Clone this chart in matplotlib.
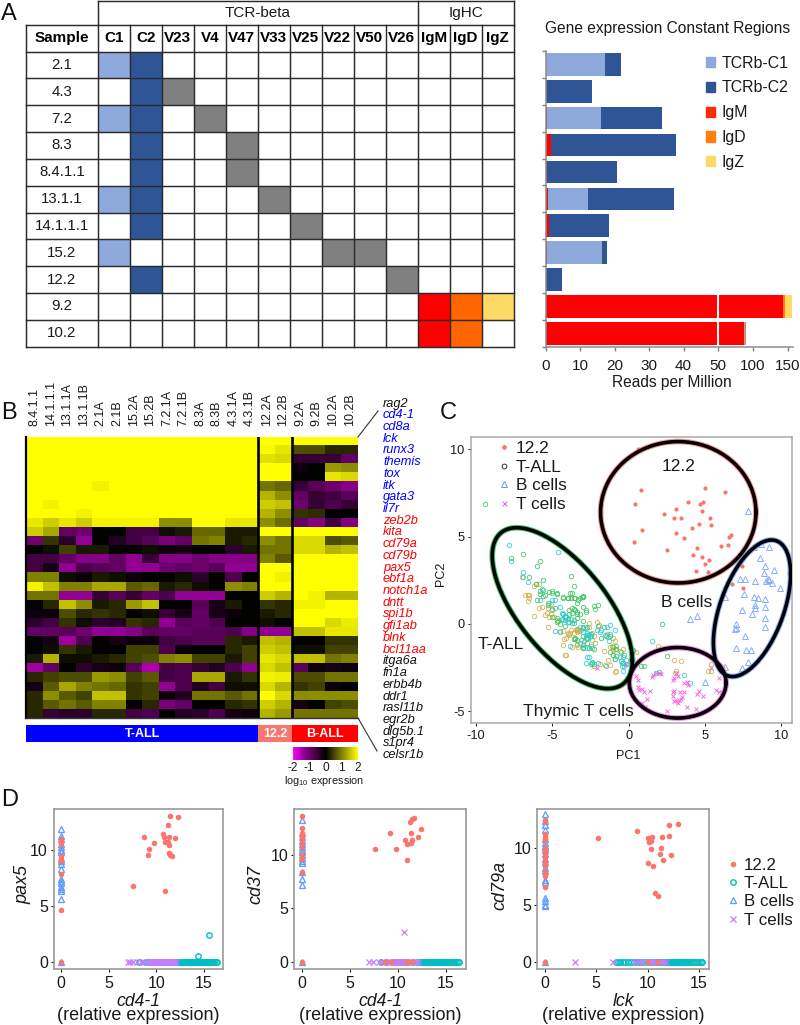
import numpy as np
import matplotlib
matplotlib.use("Agg")
import matplotlib.pyplot as plt
from matplotlib.colors import ListedColormap, LinearSegmentedColormap
from matplotlib.lines import Line2D
from matplotlib.patches import Patch

plt.rcParams['font.family'] = ['Liberation Sans', 'DejaVu Sans']
plt.rcParams['mathtext.default'] = 'regular'
plt.rcParams['axes.unicode_minus'] = False

# ---------------- data: panel A ----------------
samples = ['2.1', '4.3', '7.2', '8.3', '8.4.1.1', '13.1.1', '14.1.1.1', '15.2', '12.2', '9.2', '10.2']
tcr_cols = ['C1', 'C2', 'V23', 'V4', 'V47', 'V33', 'V25', 'V22', 'V50', 'V26']
igh_cols = ['IgM', 'IgD', 'IgZ']
present = {
    '2.1': ['C1', 'C2'], '4.3': ['C2', 'V23'], '7.2': ['C1', 'C2', 'V4'], '8.3': ['C2', 'V47'],
    '8.4.1.1': ['C2', 'V47'], '13.1.1': ['C1', 'C2', 'V33'], '14.1.1.1': ['C2', 'V25'],
    '15.2': ['C1', 'V22', 'V50'], '12.2': ['C2', 'V26'], '9.2': ['IgM', 'IgD', 'IgZ'], '10.2': ['IgM', 'IgD'],
}
reads_igm = [0, 0.2, 0.5, 1.5, 0.3, 0.8, 1.0, 0.3, 0.2, 142.4, 87.6]
reads_c1 = [17.2, 0, 15.7, 0, 0, 11.5, 0, 16.2, 0, 0, 1.0]
reads_c2 = [4.7, 13.4, 17.6, 36.4, 20.5, 24.9, 17.5, 1.3, 4.7, 0, 0]
reads_igd = [0, 0, 0, 0, 0, 0, 0, 0, 0, 3.8, 1.9]
reads_igz = [0, 0, 0, 0, 0, 0, 0, 0, 0, 9.5, 0]
bar_ticks = [0, 10, 20, 30, 40, 50, 100, 150]

# ---------------- data: panel B ----------------
heat_cols = ['8.4.1.1', '14.1.1.1', '13.1.1A', '13.1.1B', '2.1A', '2.1B', '15.2A', '15.2B', '7.2.1A', '7.2.1B',
             '8.3A', '8.3B', '4.3.1A', '4.3.1B', '12.2A', '12.2B', '9.2A', '9.2B', '10.2A', '10.2B']
genes_black1 = ['rag2']
genes_blue = ['cd4-1', 'cd8a', 'lck', 'runx3', 'themis', 'tox', 'itk', 'gata3', 'il7r']
genes_red = ['zeb2b', 'kita', 'cd79a', 'cd79b', 'pax5', 'ebf1a', 'notch1a', 'dntt', 'spi1b', 'gfi1ab', 'blnk', 'bcl11aa']
genes_black2 = ['itga6a', 'fn1a', 'erbb4b', 'ddr1', 'rasl11b', 'egr2b', 'dlg5b.1', 's1pr4', 'celsr1b']
heat = [
 [2,2,2,2,2,2,2,2,2,2,2,2,2,2, 2,2, 2,2,2,2],
 [2,2,2,2,2,2,2,2,2,2,2,2,2,2, 1.95,1.8, .6,.6,.3,.3],
 [2,2,2,2,2,2,2,2,2,2,2,2,2,2, 1.75,1.7, -.5,-.5,-.5,-.9],
 [2,2,2,2,2,2,2,2,2,2,2,2,2,2, 2,2, -.1,0,1.2,1.1],
 [2,2,2,2,2,2,2,2,2,2,2,2,2,2, 2,2, 0,0,1.8,1.7],
 [2,2,2,2,1.9,2,2,2,2,2,2,2,2,2, .9,.8, -.5,-.8,-1,-1.2],
 [2,2,2,2,2,2,2,2,2,2,2,2,2,2, 1.4,1.1, -.9,-.5,-.6,-.8],
 [2,1.9,2,2,2,2,2,2,2,2,2,2,2,2, 1.6,1.5, -1,-.5,-.7,-.5],
 [2,2,2,1.9,2,2,2,2,2,2,2,2,2,2, 1.4,1.1, .4,.35,0,0],
 [1.8,1.6,1.8,1.6,1.9,1.9,1.9,1.9,1.1,1.1,2,2,1.8,1.8, 1.1,.85, -.9,-1.2,-.6,-1.2],
 [1.6,1.3,-.9,-1,0,0,-.6,-.6,.1,.2,.8,.8,.2,.2, 2,2, 2,2,2,2],
 [-1,.4,-.4,-1.3,0,-.3,-.6,-.8,-1.1,-.9,.9,1,.2,.3, 1.1,.9, 1.7,1.7,.6,.7],
 [0,.1,.5,.2,.2,0,0,.1,-.1,-.2,0,0,-.4,.2, .9,.9, 1.7,1.7,1.4,1.5],
 [-.6,-.6,-.9,-1.2,-1.2,-.9,-1.3,-.5,-1.2,-1.2,-1,-1.2,-1.2,-1.2, 1,.7, 2,2,2,2],
 [-.6,-.2,-1.3,-.7,-.8,-.9,-1.3,-1.3,-1,-.9,-1,-.8,-1.3,-1.3, 2,2, 2,2,2,2],
 [1,1,.1,-.1,.2,.1,-.1,0,0,.1,-.4,0,-.7,0, 2,1.9, 2,2,2,2],
 [1.9,1.5,1,1,1.3,1.3,.7,.8,.2,.3,.1,0,1.1,1, 2,2, 2,2,2,2],
 [.9,.9,-1.3,-1.3,-.5,-.8,-.5,-.9,-.7,-1.3,-1.3,-1.3,0,0, 1.6,1.4, 2,1.9,1.4,1.4],
 [0,.3,1.5,1.1,.2,.3,1.2,1.5,0,0,-.8,-.2,.2,0, .4,.3, 1.9,1.9,2,2],
 [-.1,-.1,.6,.3,.4,.3,0,.1,-.5,-.2,-.9,-.2,-.1,0, .2,.3, 2,2,2,2],
 [-.4,-.6,.4,.1,-.4,-.3,.4,.3,-1.3,-.8,-.9,-.7,0,0, .1,0, 2,2,1.7,1.85],
 [-.9,-.9,-.8,-1,-1.3,-1.3,-1.2,-.8,-.9,-.9,-.8,-.8,-.7,-1.2, -1.3,-1.3, 1.5,1.5,1.8,1.8],
 [0,-.2,-1.4,-.7,0,-.2,-.1,-.1,-.6,-.7,-.8,-.8,.3,.2, 1.5,1.4, 0,0,.4,.4],
 [0,.1,.4,.2,0,0,.5,.5,-.7,-.1,0,0,.3,.5, 1.6,1.5, .1,.1,.5,.5],
 [.2,1.4,.1,.1,.2,.3,.5,.6,1,1.1,.5,.5,.2,.5, 1.8,1.7, 1.5,1.5,.9,1],
 [-1.4,-.9,0,-.4,-.2,-.1,-.8,-1.5,-.6,-.7,-.5,-.3,-.7,-1.3, 1.7,1.5, -.8,-.1,-.2,-.1],
 [.3,.5,.6,.6,1.2,1.1,.5,.7,-.6,-.7,1.3,1.3,.2,.4, 1.9,1.85, .6,.6,.9,.9],
 [-.2,.7,1.3,1,.9,.8,.4,.5,-1.3,-.7,-.3,-.6,.1,.1, 1.7,1.4, .4,.5,-.1,0],
 [.3,1.1,.7,.5,1.5,1.5,.4,.5,-.1,-.3,.9,.9,.7,.9, 2,1.7, 1.1,1.1,1.1,1.1],
 [.3,.7,.9,.7,1,1,0,.3,-1.1,-.9,0,0,.3,.4, 1.6,1.4, -.2,0,.5,.6],
 [.3,-.5,-.4,-.4,.3,.3,-.6,-.7,0,-.3,-.4,-.7,-.2,-.1, 1.4,1.2, .9,.9,.9,.9],
]
group_names = ['T-ALL', '12.2', 'B-ALL']
group_sizes = [14, 2, 4]

# ---------------- data: panel C ----------------
pc_green = [(-9.4,6.9),(-6.9,4.0),(-7.7,3.8),(-5.8,3.6),(-6.0,3.3),(-3.8,2.75),(-6.5,2.7),(-5.6,2.5),(-6.1,2.3),(-3.6,2.2),
 (-5.8,1.9),(-5.8,1.7),(-5.2,1.85),(-5,1.8),(-4.7,1.7),(-5.6,1.6),(-3.7,1.8),(-3.0,1.55),(-3.2,1.5),(-4.3,1.5),(-4.0,1.5),
 (-3.6,1.5),(-3.3,1.4),(-6,1.35),(-5.3,1.1),(-3,1.0),(-2.3,1.05),(-2.2,.85),(-2.8,.8),(-3.5,.8),(-3.4,.7),(-3.7,.65),
 (-4.8,.9),(-4.3,.6),(-3.2,.6),(-4.6,.15),(-4.4,.3),(-4.0,.3),(-3.6,.2),(-3,.15),(-4.5,0),(-4.2,-.1),(-3,-.2),(-2.7,-.2),
 (-2.0,-.1),(-1.6,-.2),(-2.5,-.6),(-3.0,-.7),(-2.8,-.8),(-3.5,-.85),(-3.4,-.9),(-1.8,-.8),(-1.5,-.7),(-1.2,-.7),(-2.7,-1.1),
 (-3,-1.2),(-2.6,-1.35),(-2.4,-1.4),(-1,-1.3),(-.8,-1.45),(-.5,-1.6),(-1.2,-1.6),(-.3,-1.8),(-2.5,-2.3),(-2.4,-2.25),
 (-.9,-2),(.3,-1.5),(2.2,0),(2.5,-1.85),(1.0,-2.4),(.8,-2.4),(-.5,-2.1),
 (-5,1.9),(-4.72,1.75),(-4.28,1.53),(-4,1.47),(-3.77,1.47),(-3.5,1.47),(-2.96,1.6),(-3.06,1.53),(-3.4,1.18),(-3.84,1.8),
 (-2,1.06),(-3.7,.9),(-3.55,.85),(-3.9,.8),(-3.9,.6),(-3.4,.6),(-2.8,.7),(-4.7,.33),(-4.7,.14),(-5,.38),(-3.4,.33),(-3.7,.05),
 (-3.6,-.87),(-3.5,-.82),(-2.3,-1.45),(-3,-1.4),(-.85,-1.26),(-1,-1.78),(-.8,-1.83),(-5.5,1.66),(-5.6,1.95)]
pc_gold = [(-7,2.7),(-6.1,2.3),(-5.9,2.3),(-6.2,2.2),(-6.8,1.65),(-6.6,1.65),(-6.5,1.65),(-6.5,1.5),(-6.6,1.3),(-5.9,.9),
 (-5.7,.95),(-5.3,.9),(-5,.8),(-5.1,.55),(-6.2,.45),(-5.5,.5),(-4.9,.4),(-4.7,.2),(-5.3,-.15),(-4.5,-.4),(-4.3,-.4),(-4,-.5),
 (-3.8,-.35),(-3.4,-.3),(-3.3,-.35),(-3.1,-.35),(-3.6,-.5),(-3.9,-.65),(-4.1,-.8),(-2.4,-.5),(-2.6,-.2),(-2.9,-1.0),(-3.4,-1.15),
 (-3.3,-1.3),(-3.7,-1.3),(-4.3,-1.2),(-2.2,-1.1),(-1.4,-.55),(-1.2,-1.3),(-1.0,-1.5),(-.6,-1.55),(-1.6,-1.55),(-1.0,-1.75),
 (-4.1,-1.8),(-2.3,-2.4),(-1.9,-2.3),(-.8,-2.7),(1.9,-1.25),(.5,-1.6),(3,-2.05),(3.4,-2.1),(3.1,-2.7),(3.05,-2.8),(5.2,-2.7),
 (5.4,-2.7),(5.4,-2.3),
 (-3.36,-.3),(-3.45,-.34),(-3.25,-.4),(-3.36,-.45),(-3.85,-.5),(-3.95,-.6),(-4.24,-.86),(-3.36,-1.2),(-3,-1.4),(-2.4,-.9),
 (-2.3,-.7),(-2.08,.13),(-1.95,-.05),(-2.62,.04),(-1,-.82),(-.9,-1),(-1.1,-1.26),(-.87,-1.45),(-.34,-1.45),(-1.33,-2.06),
 (-1.2,-2.35),(-1.55,-2.35),(-.87,-2.73),(-2.3,-2.4),(-4.17,-1.77),(-5.35,.62),(-5.2,.4),(-5.2,1.2),(-5.1,1.15)]
pc_cyan = [(-7.85,4.5),(-7.7,3.6),(-6.9,3),(-6.9,2.7),(-6.6,2.4),(-5.8,1.4),(-5.7,2.0),(-5.3,1.2),(-5.0,1.4),(-4.8,1.35),
 (-4.5,1.0),(-5.0,.85),(-4.3,.6),(-4.2,.45),(-4.1,.4),(-4.2,.2),(-3.8,.3),(-3.9,.1),(-3.6,.05),(-3.2,-.2),(-2.8,-.25),(-3,-.45),
 (-2.7,-.5),(-2.6,-.6),(-2.5,-.7),(-2.65,-.8),(-2.8,-.65),(-3.1,-.9),(-3.2,-1.1),(-3,-1.3),(-2.7,-1.4),(-2.5,-1.25),(-1.8,-.35),
 (-1.4,-.2),(-1.2,-.6),(-1.3,-1),(-2.6,-1.9),(-2.8,-2.25),(-2.3,-2.3),(-1.5,-2.4),(-.9,-2),(-.6,-1.9),(-.4,-1.9),(-.4,-2.25),
 (-.3,-2.4),(-.45,-2.4),(-.2,-2.3),(-.4,-2.7),(.3,-1.55),(1.5,-.95),(1.8,-2.8),(2,-2.75),(3.6,-2.9),(4.0,-3.4),(-4.6,4.1),
 (-4.39,.61),(-4.17,.42),(-4.28,.23),(-3.95,.13),(-4.5,-.44),(-4.83,-.38),(-2.97,-.25),(-2.64,-.63),(-2.75,-.82),(-2.53,-.69),
 (-2.1,-.34),(-1.85,-.44),(-1.55,-.63),(-1.33,-.73),(-1.22,-.06),(-.9,-.34),(-3.84,-1.26),(-2.75,-1.9),(-2.4,-2.15),(-1.99,-2.25),
 (-.46,-2.25),(-.16,-2.06)]
pc_tcells = [(-2.1,-2.5),(-.2,-2.3),(.5,-3.0),(.6,-3.2),(.6,-3.6),(.7,-3.8),(.9,-3.75),(1,-3.9),(1.4,-3.85),(1.2,-4.3),(.9,-4.5),
 (1.1,-4.75),(1.6,-2.9),(1.5,-3.05),(1.8,-2.8),(2.0,-2.8),(2.1,-2.85),(2.9,-3.2),(3.0,-3.1),(3.1,-2.8),(3.2,-3.0),(3.6,-3.4),
 (3.8,-3.3),(3.9,-3.5),(2.9,-3.9),(2.9,-4.1),(2.95,-4.4),(3.1,-4.4),(3.4,-4.3),(3.5,-4.2),(3.35,-3.9),(3.6,-3.9),(3.2,-4.5),
 (3.3,-4.35),(2.5,-5.0),(3.8,-4.75),(4.4,-4.85),(4.6,-3.85),(4.5,-4),(4.9,-4.1),(5.7,-3.8),(5.9,-3.9),(5.9,-3.1),(6.1,-3.9),
 (5.4,-2.55),(3.0,-3.85)]
pc_bcells = [(7.8,6.45),(9.2,4.4),(8.2,4.4),(8.7,4.6),(8.6,3.8),(8.9,3.3),(9.5,3.1),(8.85,2.9),(9.1,2.55),(9.2,2.5),(9.0,2.45),
 (9.4,2.35),(9.9,2.05),(7.3,2.6),(7.6,2.6),(8.3,2.45),(7.55,1.7),(6.3,1.55),(8.2,1.55),(8.5,1.5),(8.9,1.45),(8.25,1.1),(8.3,.9),
 (8.9,.95),(7.4,.8),(8.1,.6),(8.9,.35),(8.9,-.15),(7,-.0),(7,-.25),(6.95,-.3),(7.6,-.7),(7,-1.4),(7.7,-1.5),(8.0,-1.5),(7.8,-2.15),
 (6.3,-2.45),(7.4,-2.5),(4.0,.3),(4.45,.45),(5,-3.35)]
pc_122 = [(.6,10),(.8,7.7),(.4,6.9),(.85,5.4),(.35,4.7),(2.5,4.25),(2.3,6.3),(3.1,6.6),(2.95,6.1),(3.4,6.1),(3.9,7),(4.7,6.9),
 (4.85,7.0),(4.8,6.5),(5,7.8),(6.3,7.55),(5.3,6.1),(5.4,5.65),(4.6,5.75),(4.15,5.5),(3.1,5.2),(3.6,4.95),(6.7,5.1),(6.55,5),
 (6.5,4.5),(6.05,4.45),(4.45,4.35),(4.2,3.95),(4.8,3.85),(5,3.45),(5.25,3.65),(4.4,3.05),(5.2,2.95),(7.4,3.3),(7.5,2.05),
 (6.8,2.3),(6.2,1.65)]
# ellipse: centre x, centre y, x half-extent, y shift with x, y half-extent of the remainder, colour
ell_tall = (-4.35, .906, 4.59, -3.0, 3.5, '#00ba38')
ell_122 = (3.25, 6.4, 5.09, 0, 4.05, '#f8766d')
ell_b = (8.08, .9, 2.53, 1.97, 3.38, '#619cff')
ell_t = (3.21, -3.37, 3.17, 0, 2.02, '#f564e3')

# ---------------- data: panel D ----------------
d1_122 = [(11.5,13.0),(12.35,12.85),(11.2,12.2),(10.7,11.35),(10.8,11.1),(11.4,11.15),(12,11.05),(8.7,11.15),(9.8,10.55),
 (10.9,10.7),(11.3,10.7),(11.4,10.4),(9.25,10.05),(9.1,9.5),(11.4,9.7),(11.5,9.55),(11.7,9.4),(7.6,6.8),(10.95,6.35)]
d1_122_y0 = [10.9,10.8,10.7,10.5,9.4,9.2,9.1,8.95,7.8,4.65,0]
d1_b_y0 = [11.8,11.2,10.9,10.5,10.2,10,9.8,9.2,9,8.7,8.3,7.4,7.2,7,6.7,6.5,6.3,5.6,0]
d1_tall = [8.2,8.9,9.3,9.7,10.3,10.6,11,11.4,11.7,12,12.2,12.3,12.4,12.5,12.6,12.7,12.8,12.9,13,13.1,13.2,13.3,13.4,13.5,13.6,13.7,13.8,
 13.9,14,14.1,14.2,14.3,14.4,14.5,14.6,14.7,14.8,14.9,15,15.1,15.2,15.3,15.4,15.5,15.6,15.7,15.8,15.9,16,16.1,16.3,16.4]
d1_tall_off = [(14.4,.6),(15.6,2.4)]
d1_t = [7,7.3,7.6,8,8.4,8.7,9.1,9.4,9.5,9.6,9.7,9.8,9.9,10,10.1,10.2,10.3,10.4,10.5,10.6,10.7,10.8,10.9,11,11.1,11.2,11.3,11.4,11.5,
 11.6,11.7,11.8,11.9,12.1]
d2_122 = [(7.65,10.5),(9.2,12.05),(9.85,10.5),(10.7,11.4),(10.9,11),(11,9.5),(11.3,13),(11.5,13.35),(11.7,13.4),(11.4,12),
 (11.5,11.4),(11.35,11.1),(12.1,11.65),(12.4,12.35)]
d2_122_y0 = [13.6,12.5,12,11.8,11.5,11.2,10.7,10,9.6,8.4,0]
d2_122_x0 = [8.7,9.3,10.9,11.3,11.5]
d2_b_y0 = [13.2,12,11.6,11.3,11,10.7,10.4,10.2,10,9.7,9.4,9.2,8.4,7.7,7.2,0]
d2_tall = [8.2,8.8,9.6,10.3,11,11.6,12,12.3,12.4,12.5,12.6,12.7,12.8,12.9,13,13.1,13.2,13.3,13.4,13.5,13.6,13.7,13.8,13.9,14,14.1,
 14.2,14.3,14.4,14.5,14.6,14.7,14.8,14.9,15,15.1,15.2,15.3,15.4,15.5,15.6,15.7,15.9,16.1,16.3,16.4]
d2_t = [7,7.4,8,8.3,8.6,9,9.2,9.4,9.5,9.6,9.7,9.8,9.9,10,10.1,10.2,10.3,10.4,10.5,10.6,10.7,10.8,10.9,11,11.2,11.9,12.1]
d2_t_off = [(10.6,2.8)]
d3_122 = [(12.1,12.05),(12.95,12.1),(9,11.5),(5.15,10.85),(10.05,10.9),(10.45,10.95),(11.4,10.95),(12.1,11.05),(10.25,10.75),
 (10.3,10.6),(10.1,10.5),(11.35,10),(10.35,9.9),(11.2,9.45),(12.3,9.35),(11.5,8.95),(10,8.7),(10.5,8.45),(10.7,6.05),(11.05,5.75)]
d3_122_y0 = [12.5,12.4,11.2,11,10.8,10.7,10,9.7,9.5,9.3,9,8.8,8.4,7.9,7.5,6.6,0]
d3_122_x0 = [10,11.05]
d3_b_y0 = [13,12.4,12,11.6,10.8,10.4,10.2,10,9.8,9.5,9,8.8,8.2,8,7.2,7,5.6,5.3,5,4.9,0]
d3_tall = [6.9,7.1,7.3,7.6,7.8,8.1,8.4,8.7,9,9.3,9.6,9.9,10.2,10.5,10.8,11,11.2,11.4,11.6,11.8,11.9,12,12.1,12.2,12.3,12.4,12.5,
 12.6,12.7,12.8,12.9,13,13.1,13.2,13.3,13.4,13.5,13.6,13.7,13.8,13.9,14,14.2,14.4,14.6,14.8,15,15.2,15.3]
d3_t = [3,6.6,8.8,9.2,9.5,9.9,10.2,10.5,10.7,11,11.3,11.5,11.8]

# ---------------- figure helpers ----------------
W, H = 800, 1025
fig = plt.figure(figsize=(W/100, H/100), dpi=100)
def axpx(l, t, r, b):
    return fig.add_axes([l/W, 1-b/H, (r-l)/W, (b-t)/H])
def tpx(x, y, s, **kw):
    return fig.text(x/W, 1-y/H, s, **kw)
TXT = '#1a1a1a'
for x, y, s in [(1, 20, 'A'), (1, 419, 'B'), (440, 419.5, 'C'), (1, 806, 'D')]:
    tpx(x, y, s, fontsize=17, va='baseline', ha='left', color='#111')

# ---------------- panel A table ----------------
allcols = tcr_cols + igh_cols
ax = axpx(26, 1, 513.5, 346.7)
ax.set_xlim(-2.25, 13); ax.set_ylim(11, -1.885); ax.axis('off')
cmap_tab = ListedColormap(['#ffffff', '#808080', '#8ea9db', '#2f5597', '#ff0000', '#ff6600', '#ffd966'])
code = {'C1': 2, 'C2': 3, 'IgM': 4, 'IgD': 5, 'IgZ': 6}
mat = np.array([[(code.get(c, 1) if c in present[s] else 0) for c in allcols] for s in samples])
ax.pcolormesh(np.arange(14), np.arange(12), mat, cmap=cmap_tab, vmin=-.5, vmax=6.5, shading='flat')
LW = 1.05; LC = '#2b2b2b'
for i in range(-1, 12):
    ax.plot([-2.25, 13], [i, i], color=LC, lw=LW, clip_on=False, solid_capstyle='projecting')
ax.plot([0, 13], [-1.885, -1.885], color=LC, lw=LW, clip_on=False)
for j in range(0, 14):
    ax.plot([j, j], [-1, 11], color=LC, lw=LW, clip_on=False)
ax.plot([-2.25, -2.25], [-1, 11], color=LC, lw=LW, clip_on=False)
for j in (0, 10, 13):
    ax.plot([j, j], [-1.885, -1], color=LC, lw=LW, clip_on=False)
ax.text(5, -1.44, 'TCR-beta', ha='center', va='center', fontsize=11, color=TXT)
ax.text(11.5, -1.44, 'IgHC', ha='center', va='center', fontsize=11, color=TXT)
ax.text(-1.125, -.5, 'Sample', ha='center', va='center', fontsize=11, fontweight='bold', color='k')
for j, c in enumerate(allcols):
    ax.text(j+.5, -.5, c, ha='center', va='center', fontsize=11, fontweight='bold', color='k')
for i, s in enumerate(samples):
    ax.text(-1.125, i+.5, s, ha='center', va='center', fontsize=10.8, color=TXT)

# ---------------- panel A bars ----------------
def fwd(x):
    x = np.asarray(x, dtype=float)
    return np.where(x <= 50, x, 50 + (x-50)*.2027)
def inv(x):
    x = np.asarray(x, dtype=float)
    return np.where(x <= 50, x, 50 + (x-50)/.2027)
ax = axpx(545.5, 51, 793, 346.7)
ax.set_xscale('function', functions=(fwd, inv))
ax.set_xlim(0, 157); ax.set_ylim(10.5, -.5)
ypos = np.arange(len(samples))
left = np.zeros(len(samples))
for vals, col in [(reads_igm, '#ff0000'), (reads_c1, '#8ea9db'), (reads_c2, '#2f5597'), (reads_igd, '#ff7f0e'), (reads_igz, '#ffd966')]:
    ax.barh(ypos, vals, left=left, height=.84, color=col, linewidth=0)
    left = left + np.array(vals)
ax.axvline(50, color='white', lw=1.5)
ax.set_xticks(bar_ticks); ax.set_xticklabels([str(t) for t in bar_ticks], fontsize=11, color=TXT)
ax.xaxis.set_minor_locator(matplotlib.ticker.NullLocator())
ax.set_yticks(np.arange(-.5, 11, 1)); ax.set_yticklabels([])
for s in ('top', 'right'):
    ax.spines[s].set_visible(False)
for s in ('left', 'bottom'):
    ax.spines[s].set_color('#8c8c8c'); ax.spines[s].set_linewidth(1.1)
ax.tick_params(axis='both', color='#808080', length=3, width=1)
ax.tick_params(axis='x', pad=6)
ax.set_xlabel('Reads per Million', fontsize=11.2, color=TXT)
ax.xaxis.set_label_coords(.51, -.095)
tpx(545, 28, 'Gene expression Constant Regions', fontsize=11.2, va='center', color=TXT)
handles = [Patch(color=c, label=l) for c, l in zip(['#8ea9db', '#2f5597', '#ff2a00', '#ff7f0e', '#ffd966'],
                                                  ['TCRb-C1', 'TCRb-C2', 'IgM', 'IgD', 'IgZ'])]
fig.legend(handles=handles, loc='upper left', bbox_to_anchor=(704/W, 1-54/H), frameon=False, fontsize=11.4,
           handlelength=.62, handleheight=.62, handletextpad=.38, labelspacing=.62, borderaxespad=0, borderpad=0.1,
           labelcolor=TXT)

# ---------------- panel B ----------------
M = np.array(heat, dtype=float)
cmap_heat = LinearSegmentedColormap.from_list('myb', [(0, '#ff00ff'), (.175, '#900090'), (.5, '#000000'), (1, '#ffff00')])
ax = axpx(26, 437, 358, 718.3)
im = ax.imshow(M, cmap=cmap_heat, vmin=-2, vmax=2, aspect='auto', interpolation='nearest')
ax.set_xticks(np.arange(len(heat_cols))); ax.set_xticklabels(heat_cols, rotation=90, fontsize=9, color=TXT)
ax.xaxis.tick_top(); ax.tick_params(axis='x', length=0, pad=8)
ax.set_yticks([])
for x_ in (13.5, 15.5):
    ax.axvline(x_, color='k', lw=1.9)
for s in ('top', 'right'):
    ax.spines[s].set_visible(False)
ax.spines['left'].set_color('k'); ax.spines['left'].set_linewidth(1.6)
ax.spines['bottom'].set_color('#333'); ax.spines['bottom'].set_linewidth(1)

y0, dy = 403.5, 11.72
genes = genes_black1 + genes_blue + genes_red + genes_black2
colors = ['#111']*len(genes_black1) + ['#0000ff']*len(genes_blue) + ['#ff0000']*len(genes_red) + ['#111']*len(genes_black2)
for i, (g, c) in enumerate(zip(genes, colors)):
    tpx(383, y0+i*dy, g, fontsize=9.2, style='italic', color=c, va='center')
fig.add_artist(Line2D([358/W, 378/W], [1-437/H, 1-411/H], color='#333', lw=.8))
fig.add_artist(Line2D([358/W, 377/W], [1-718/H, 1-751/H], color='#333', lw=.8))

ax = axpx(26, 724.7, 358, 742.3)
ax.set_xlim(0, 20); ax.set_ylim(0, 1); ax.axis('off')
l = 0
for name, size, col in zip(group_names, group_sizes, ['#0000ff', '#f8766d', '#ff0000']):
    ax.barh(.5, size, left=l, height=1, color=col, linewidth=0)
    ax.text(l+size/2, .48, name, color='white', fontweight='bold', fontsize=9, ha='center', va='center')
    l += size

cax = axpx(293, 747, 358, 760)
cb = fig.colorbar(im, cax=cax, orientation='horizontal')
cb.set_ticks([-2, -1, 0, 1, 2]); cb.ax.tick_params(length=0, labelsize=8.6, pad=1.5, labelcolor=TXT)
cb.outline.set_visible(False)
tpx(324, 781, 'log$_{10}$ expression', fontsize=7.8, ha='center', va='center', color=TXT)

# ---------------- panel C ----------------
def pts(p):
    a = np.array(p, dtype=float)
    return a[:, 0], a[:, 1]
ax = axpx(470.7, 436.7, 792.3, 723.3)
ax.set_xlim(-10.35, 10.72); ax.set_ylim(-5.69, 10.73)
open_kw = dict(ls='none', mfc='none', ms=3.2, mew=.65, alpha=.85)
ax.plot(*pts(pc_gold), marker='o', color='#cfae4a', **open_kw)
ax.plot(*pts(pc_green), marker='o', color='#3cc163', **open_kw)
ax.plot(*pts(pc_cyan), marker='o', color='#2ccbd0', **open_kw)
ax.plot(*pts(pc_bcells), marker='^', ls='none', mfc='none', ms=3.8, mew=.65, color='#7fa9ff')
ax.plot(*pts(pc_tcells), marker='x', ls='none', ms=3.2, mew=.65, color='#f564e3')
ax.plot(*pts(pc_122), marker='o', ls='none', ms=3, mew=0, color='#f8766d')
theta = np.linspace(0, 2*np.pi, 240)
for cx, cy, ux, uy, vy, col in (ell_tall, ell_122, ell_b, ell_t):
    ex = cx + ux*np.cos(theta)
    ey = cy + uy*np.cos(theta) + vy*np.sin(theta)
    ax.plot(ex, ey, color=col, lw=4.1, alpha=.75, zorder=5)
    ax.plot(ex, ey, color='k', lw=2.6, zorder=6)
ax.text(3.25, 9.0, '12.2', fontsize=12.5, ha='center', va='center', color=TXT, zorder=7)
ax.text(3.8, 1.25, 'B cells', fontsize=12.5, ha='center', va='center', color=TXT, zorder=7)
ax.text(-8.4, -1.2, 'T-ALL', fontsize=12.5, ha='center', va='center', color=TXT, zorder=7)
ax.text(-3.3, -5.0, 'Thymic T cells', fontsize=12.5, ha='center', va='center', color=TXT, zorder=7)
ax.set_xticks([-10, -5, 0, 5, 10]); ax.set_yticks([-5, 0, 5, 10])
ax.tick_params(labelsize=9.2, colors=TXT, length=2.5, width=.7, pad=2)
for s in ax.spines.values():
    s.set_color('#aaaaaa'); s.set_linewidth(1.1)
ax.set_xlabel('PC1', fontsize=9, color=TXT)
ax.xaxis.set_label_coords(.491, -.092)
ax.set_ylabel('PC2', fontsize=9, color=TXT)
ax.yaxis.set_label_coords(-.074, .52)
hc = [Line2D([], [], marker='o', ls='none', ms=3.4, mew=0, color='#f8766d', label='12.2'),
      Line2D([], [], marker='o', ls='none', mfc='none', ms=3.4, mew=.7, color='#333333', label='T-ALL'),
      Line2D([], [], marker='^', ls='none', mfc='none', ms=4.4, mew=.7, color='#619cff', label='B cells'),
      Line2D([], [], marker='x', ls='none', ms=3.6, mew=.7, color='#f564e3', label='T cells')]
lg = ax.legend(handles=hc, loc='upper left', bbox_to_anchor=(.088, .985), frameon=False, fontsize=12.4, labelspacing=.2,
               handlelength=.6, handletextpad=.38, borderaxespad=0, borderpad=0, labelcolor=TXT)
lg.set_zorder(8)

# ---------------- panel D ----------------
C_RED, C_CY, C_BL, C_PU = '#f8766d', '#00bfc4', '#619cff', '#c77cff'
def panelD(box, xlim, ylim, tall, tall_off, tcell, tcell_off, b_y0, red_y0, red_x0, red, xlab):
    ax = axpx(*box)
    ax.set_xlim(*xlim); ax.set_ylim(*ylim)
    xs = list(tall) + [p[0] for p in tall_off]
    ys = [0]*len(tall) + [p[1] for p in tall_off]
    ax.plot(xs, ys, marker='o', color=C_CY, ls='none', mfc='none', ms=3.9, mew=1)
    ax.plot(tcell + [p[0] for p in tcell_off], [0]*len(tcell) + [p[1] for p in tcell_off], marker='x', ls='none', ms=4.4, mew=.9, color=C_PU)
    ax.plot([0]*len(b_y0), b_y0, marker='^', ls='none', mfc='none', ms=4.8, mew=.95, color=C_BL)
    rx = [0]*len(red_y0) + list(red_x0) + [p[0] for p in red]
    ry = list(red_y0) + [0]*len(red_x0) + [p[1] for p in red]
    ax.plot(rx, ry, marker='o', ls='none', ms=4, mew=0, color=C_RED)
    ax.set_xticks([0, 5, 10, 15]); ax.set_yticks([0, 5, 10])
    ax.tick_params(labelsize=11.5, colors=TXT, length=2.5, width=.8, pad=2)
    for s in ax.spines.values():
        s.set_color('#999999'); s.set_linewidth(1.2)
    cx = (box[0]+box[2])/2
    tpx(cx, 1001, xlab, fontsize=12.7, style='italic', ha='center', va='center', color=TXT)
    tpx(cx, 1016, '(relative expression)', fontsize=13, ha='center', va='center', color=TXT)
    return ax

a1 = panelD((54, 809, 222.7, 969.3), (-.74, 17), (-.62, 13.6), d1_tall, d1_tall_off, d1_t, [], d1_b_y0, d1_122_y0, [], d1_122, 'cd4-1')
a2 = panelD((294.3, 809, 466, 969.3), (-.8, 17.1), (-.65, 14.24), d2_tall, [], d2_t, d2_t_off, d2_b_y0, d2_122_y0, d2_122_x0, d2_122, 'cd4-1')
a3 = panelD((537.3, 809, 709, 969.3), (-.71, 15.97), (-.67, 13.43), d3_tall, [], d3_t, [], d3_b_y0, d3_122_y0, d3_122_x0, d3_122, 'lck')
tpx(23, 885, 'pax5', fontsize=13, style='italic', rotation=90, ha='center', va='center', color=TXT)
tpx(256, 885, 'cd37', fontsize=13, style='italic', rotation=90, ha='center', va='center', color=TXT)
tpx(500, 885, 'cd79a', fontsize=13, style='italic', rotation=90, ha='center', va='center', color=TXT)
hd = [Line2D([], [], marker='o', ls='none', ms=4, mew=0, color=C_RED, label='12.2'),
      Line2D([], [], marker='o', ls='none', mfc='none', ms=3.9, mew=1, color=C_CY, label='T-ALL'),
      Line2D([], [], marker='^', ls='none', mfc='none', ms=4.8, mew=.95, color=C_BL, label='B cells'),
      Line2D([], [], marker='x', ls='none', ms=4.4, mew=.9, color=C_PU, label='T cells')]
fig.legend(handles=hd, loc='upper left', bbox_to_anchor=(728/W, 1-857.5/H), frameon=False, fontsize=12.2, labelspacing=.2,
           handlelength=.6, handletextpad=.32, borderaxespad=0, borderpad=0, labelcolor=TXT)

fig.savefig('out.png', dpi=100)
